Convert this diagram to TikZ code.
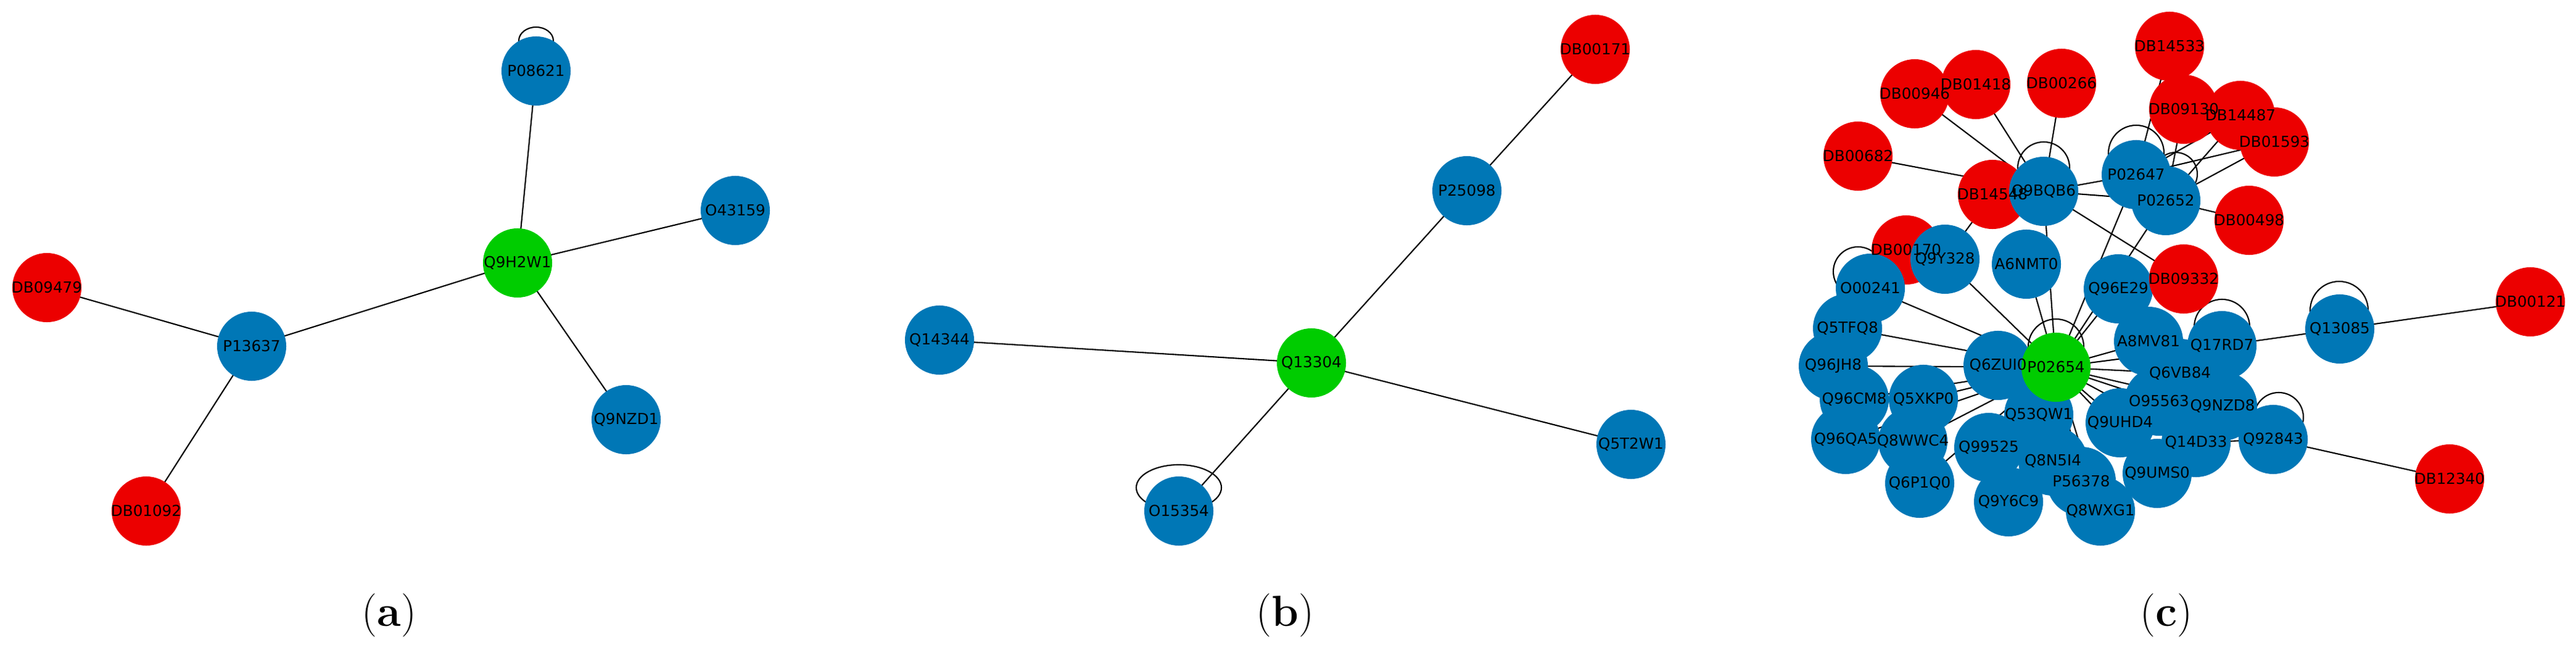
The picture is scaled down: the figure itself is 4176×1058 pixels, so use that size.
\documentclass[tikz,border=0pt]{standalone}
\usepackage{fontspec}
\newfontfamily\lab{DejaVu Sans}
\definecolor{pblue}{RGB}{0,119,182}
\definecolor{pred}{RGB}{236,0,0}
\definecolor{pgreen}{RGB}{0,204,0}
\begin{document}
\begin{tikzpicture}[x=0.01cm,y=-0.01cm,
  n/.style={circle,minimum size=1.12cm,inner sep=0pt},
  b/.style={n,fill=pblue},r/.style={n,fill=pred},g/.style={n,fill=pgreen},
  txt/.style={inner sep=0pt,font=\lab\fontsize{7}{8}\selectfont,text=black},
  e/.style={draw=black,line width=0.6pt},
  panelcap/.style={font=\fontsize{20}{24}\selectfont}]
\useasboundingbox (0,0) rectangle (4176,1058);
% loops (drawn first, behind nodes)
\coordinate (la) at (869,66);
\draw[e] (la) ellipse [x radius=0.28cm,y radius=0.22cm];
\coordinate (lb) at (1911,790);
\draw[e] (lb) ellipse [x radius=0.69cm,y radius=0.37cm];
\coordinate (l1) at (3313,272); \draw[e] (l1) circle [radius=0.42cm];
\coordinate (l2) at (3463,248); \draw[e] (l2) circle [radius=0.45cm];
\coordinate (l3) at (3527,282); \draw[e] (l3) circle [radius=0.35cm];
\coordinate (l4) at (3012,440); \draw[e] (l4) circle [radius=0.40cm];
\coordinate (l5) at (3333,562); \draw[e] (l5) circle [radius=0.45cm];
\coordinate (l6) at (3602,530); \draw[e] (l6) circle [radius=0.45cm];
\coordinate (l7) at (3792,503); \draw[e] (l7) circle [radius=0.47cm];
\coordinate (l8) at (3694,676); \draw[e] (l8) circle [radius=0.40cm];
% node positions
\foreach \nm/\px/\py in {
 P08621/869/115, O43159/1192/341, P13637/408/561, Q9NZD1/1015/680, DB09479/76/466, DB01092/237/828, Q9H2W1/839/426,
 P25098/2378/309, Q14344/1523/551, Q5T2W1/2644/720, O15354/1911/828, DB00171/2586/80, Q13304/2126/588,
 DB14533/3517/75, DB00946/3104/152, DB01418/3203/137, DB00266/3342/135, DB09130/3540/177, DB14487/3632/187,
 DB01593/3687/230, DB00682/3012/253, DB14548/3230/315, Q9BQB6/3313/310, P02647/3463/283, P02652/3511/325,
 DB00498/3646/357, DB00170/3090/405, Q9Y328/3153/420, A6NMT0/3285/428, Q96E29/3434/468, DB09332/3540/452,
 O00241/3032/467, Q5TFQ8/2995/532, Q96JH8/2972/593, Q96CM8/3006/647, Q5XKP0/3118/647, Q96QA5/2992/712,
 Q8WWC4/3101/715, Q6P1Q0/3112/783, Q6ZUI0/3239/592, P02654/3333/595, A8MV81/3483/553, Q17RD7/3602/560,
 Q6VB84/3534/605, O95563/3500/650, Q9NZD8/3603/658, Q53QW1/3305/672, Q9UHD4/3437/685, Q14D33/3560/717,
 Q92843/3685/712, Q99525/3224/725, Q8N5I4/3328/747, Q9UMS0/3497/767, P56378/3374/780, Q9Y6C9/3256/813,
 Q8WXG1/3405/828, Q13085/3793/533, DB00121/4102/489, DB12340/3971/776}
 {\coordinate (c\nm) at (\px,\py);}
% edges
\foreach \a/\bb in {Q9H2W1/P08621,Q9H2W1/O43159,Q9H2W1/Q9NZD1,Q9H2W1/P13637,P13637/DB09479,P13637/DB01092,
  Q13304/P25098,P25098/DB00171,Q13304/Q14344,Q13304/Q5T2W1,Q13304/O15354,
  DB00682/Q9BQB6,DB00946/Q9BQB6,DB01418/Q9BQB6,DB00266/Q9BQB6,DB14548/Q9BQB6,
  Q9BQB6/P02647,Q9BQB6/P02652,DB14533/P02647,DB09130/P02652,DB14487/P02647,DB14487/P02652,
  DB01593/P02647,DB01593/P02652,DB00498/P02652,Q9BQB6/DB09332,DB14548/Q9Y328,Q9Y328/P02654,
  Q9BQB6/P02654,A6NMT0/P02654,P02647/P02654,P02652/P02654,
  O00241/P02654,Q5TFQ8/P02654,Q96JH8/P02654,Q96CM8/P02654,Q5XKP0/P02654,Q96QA5/P02654,
  Q8WWC4/P02654,Q6P1Q0/P02654,Q6ZUI0/P02654,A8MV81/P02654,Q6VB84/P02654,O95563/P02654,
  Q9NZD8/P02654,Q53QW1/P02654,Q9UHD4/P02654,Q14D33/P02654,Q99525/P02654,Q8N5I4/P02654,
  Q9UMS0/P02654,P56378/P02654,Q9Y6C9/P02654,Q8WXG1/P02654,Q96E29/P02654,Q17RD7/P02654,
  Q17RD7/Q13085,Q13085/DB00121,Q14D33/Q92843,Q92843/DB12340}
  {\draw[e] (c\a) -- (c\bb);}
% node discs, in drawing order
\foreach \nm/\st in {P08621/b,O43159/b,P13637/b,Q9NZD1/b,DB09479/r,DB01092/r,Q9H2W1/g,
 P25098/b,Q14344/b,Q5T2W1/b,O15354/b,DB00171/r,Q13304/g,
 DB14533/r,DB00946/r,DB01418/r,DB00266/r,DB09130/r,DB14487/r,DB01593/r,DB00682/r,DB14548/r,
 DB00498/r,DB00170/r,DB00121/r,DB12340/r,Q9BQB6/b,P02647/b,P02652/b,Q9Y328/b,A6NMT0/b,Q96E29/b,
 DB09332/r,O00241/b,Q5TFQ8/b,Q96JH8/b,Q96CM8/b,Q96QA5/b,Q5XKP0/b,Q8WWC4/b,Q6P1Q0/b,Q6ZUI0/b,
 Q53QW1/b,Q99525/b,Q9Y6C9/b,Q8N5I4/b,Q8WXG1/b,P56378/b,Q9UMS0/b,Q9UHD4/b,A8MV81/b,O95563/b,
 Q14D33/b,Q6VB84/b,Q17RD7/b,Q9NZD8/b,Q92843/b,Q13085/b,P02654/g}
 {\node[\st] (\nm) at (c\nm) {};}
% labels on top of all discs
\foreach \nm in {P08621,O43159,P13637,Q9NZD1,DB09479,DB01092,Q9H2W1,
 P25098,Q14344,Q5T2W1,O15354,DB00171,Q13304,
 DB14533,DB00946,DB01418,DB00266,DB09130,DB14487,DB01593,DB00682,DB14548,
 DB00498,DB00170,DB00121,DB12340,Q9BQB6,P02647,P02652,Q9Y328,A6NMT0,Q96E29,
 DB09332,O00241,Q5TFQ8,Q96JH8,Q96CM8,Q96QA5,Q5XKP0,Q8WWC4,Q6P1Q0,Q6ZUI0,
 Q53QW1,Q99525,Q9Y6C9,Q8N5I4,Q8WXG1,P56378,Q9UMS0,Q9UHD4,A8MV81,O95563,
 Q14D33,Q6VB84,Q17RD7,Q9NZD8,Q92843,Q13085,P02654}
 {\node[txt] (t\nm) at (\nm.center) {\nm};}
\node[panelcap] (capa) at (631,997) {(\textbf{a})};
\node[panelcap] (capb) at (2083,997) {(\textbf{b})};
\node[panelcap] (capc) at (3512,997) {(\textbf{c})};
\end{tikzpicture}
\end{document}
